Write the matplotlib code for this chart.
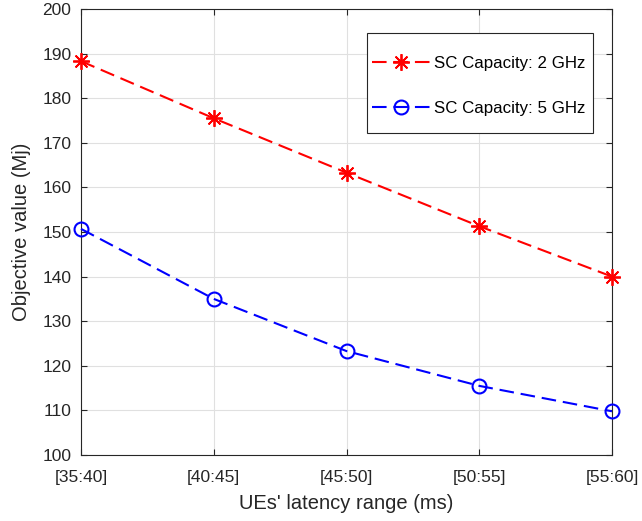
import matplotlib
matplotlib.use("Agg")
import matplotlib.pyplot as plt
from matplotlib.patches import Rectangle

# data
ranges = ["[35:40]", "[40:45]", "[45:50]", "[50:55]", "[55:60]"]
cap_2ghz = [188.3, 175.5, 163.3, 151.3, 140.0]
cap_5ghz = [150.7, 135.0, 123.3, 115.5, 109.8]

plt.rcParams["font.family"] = ["Liberation Sans", "DejaVu Sans"]

W, H = 642, 521
fig = plt.figure(figsize=(W / 100, H / 100), dpi=100)
# axes box: x 81..612 px, y 9..455 px
ax = fig.add_axes([81 / W, (H - 455) / H, 531 / W, 446 / H])

x = list(range(len(ranges)))
dash = (0, (7, 3.3))
ax.plot(x, cap_2ghz, linestyle=dash, color="red", linewidth=1.5,
        marker=(8, 2, 0), markersize=12, markeredgewidth=1.3,
        label="SC Capacity: 2 GHz", clip_on=False, zorder=3)
ax.plot(x, cap_5ghz, linestyle=dash, color="blue", linewidth=1.5,
        marker="o", markersize=10, markerfacecolor="none", markeredgewidth=1.5,
        label="SC Capacity: 5 GHz", clip_on=False, zorder=3)

ax.set_xlim(0, len(ranges) - 1)
ax.set_ylim(100, 200)
ax.set_xticks(x)
ax.set_xticklabels(ranges)
ax.set_yticks(range(100, 201, 10))

ax.grid(True, color="#e0e0e0", linewidth=0.8)
ax.set_axisbelow(True)
for s in ax.spines.values():
    s.set_color("#262626")
    s.set_linewidth(0.8)
ax.tick_params(axis="both", direction="in", length=4, labelsize=12.5,
               colors="#262626", top=True, right=True)
ax.tick_params(axis="y", pad=7)
ax.tick_params(axis="x", pad=10.5)

ax.set_xlabel("UEs' latency range (ms)", fontsize=14.5, color="#262626", labelpad=7)
ax.set_ylabel("Objective value (Mj)", fontsize=14.5, color="#262626", labelpad=8)

# legend frame drawn by hand (MATLAB-style roomy box)
frame = Rectangle((367 / W, (H - 133) / H), 226 / W, 100 / H,
                  transform=fig.transFigure, facecolor="white",
                  edgecolor="#262626", linewidth=0.8, zorder=4)
fig.patches.append(frame)

leg = fig.legend(*ax.get_legend_handles_labels(), loc="upper left",
                 bbox_to_anchor=(372 / W, 1 - 56.2 / H), borderaxespad=0,
                 borderpad=0, fontsize=12.2, frameon=False,
                 handlelength=3.4, handletextpad=0.25, labelspacing=1.74)
leg.set_zorder(5)

fig.savefig("out.png", dpi=100)
